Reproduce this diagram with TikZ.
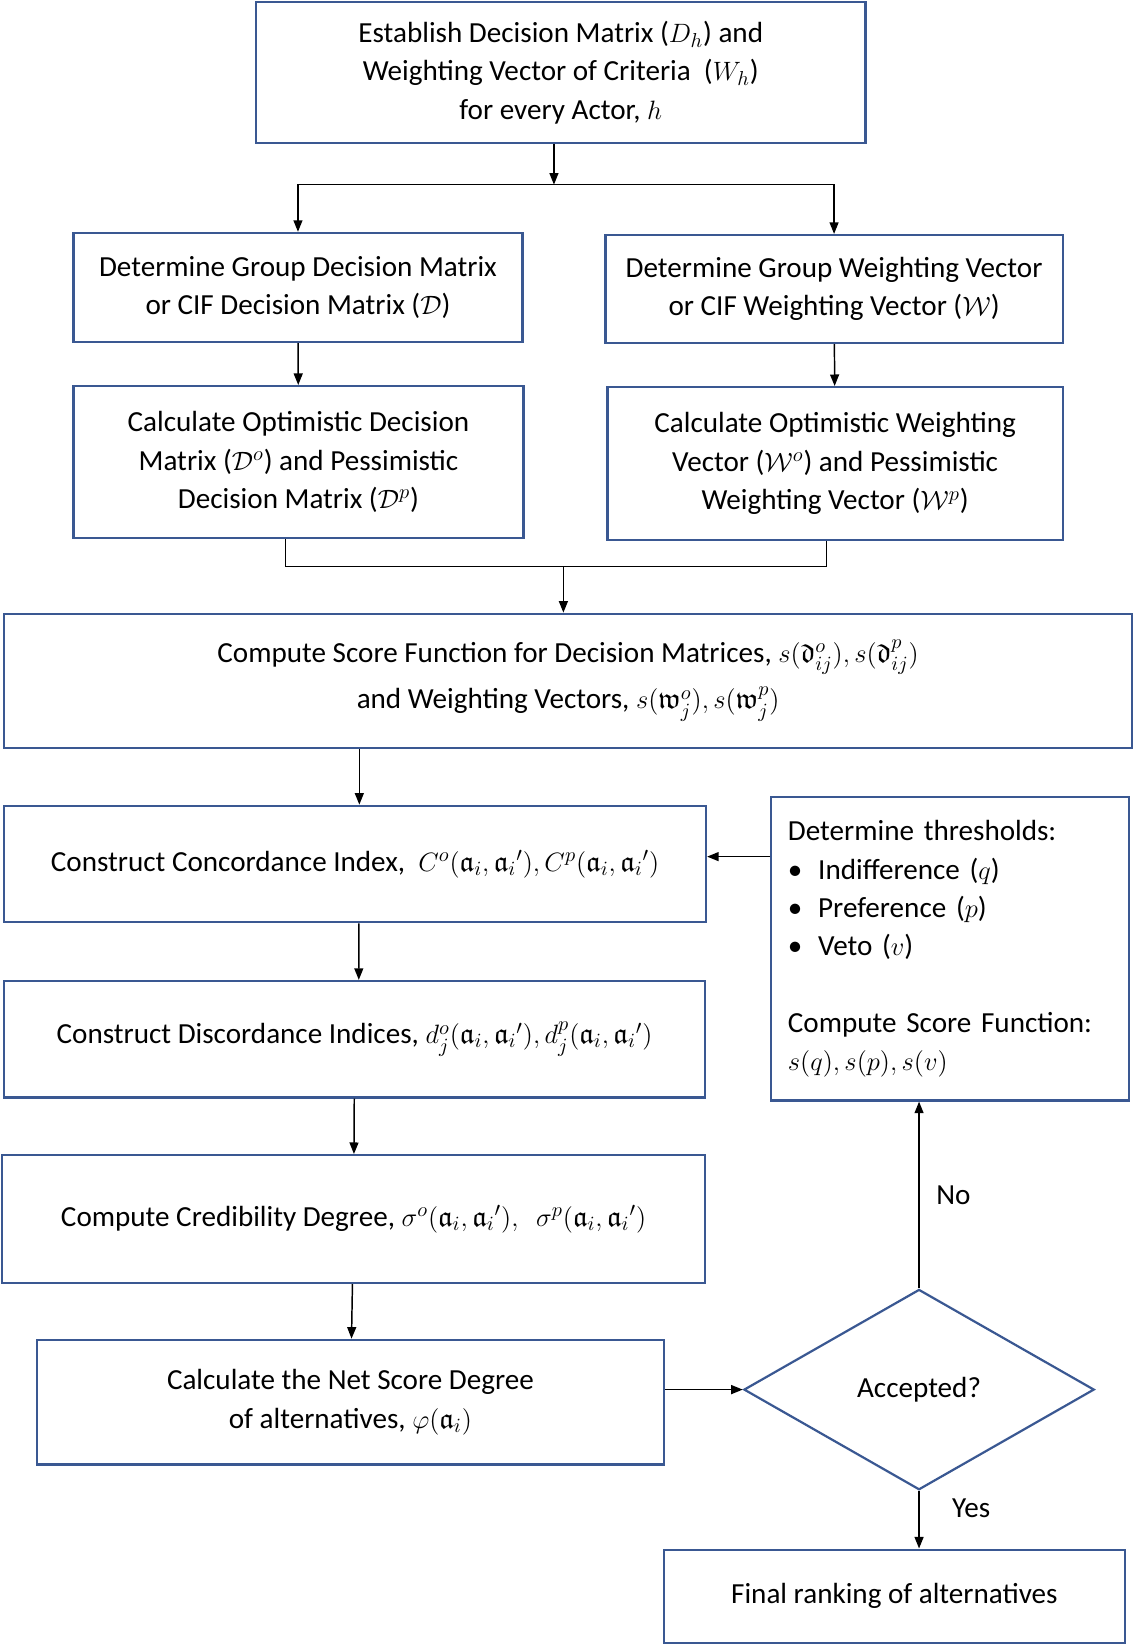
\documentclass[tikz,border=0pt]{standalone}
\usepackage{amssymb}
\usepackage{fontspec}
\setmainfont{Carlito}
\usetikzlibrary{arrows.meta,shapes.geometric,calc}
\definecolor{boxblue}{RGB}{58,88,146}
\tikzset{
  stepbox/.style={draw=boxblue, line width=1.2pt, align=center, inner sep=0pt,
    font=\fontsize{15.8}{20.8}\selectfont},
  flow/.style={-{Triangle[length=0.22cm,width=0.17cm]}, line width=0.8pt},
  joinline/.style={line width=0.8pt},
  flowlabel/.style={font=\fontsize{15.8}{20.8}\selectfont}
}
\begin{document}
\begin{tikzpicture}[x=0.02cm,y=-0.02cm]
    \useasboundingbox (0,0) rectangle (1080,1567);

    % Boxes
    \node[stepbox, minimum width=11.62cm, minimum height=2.68cm] (actor) at (534.5,69)
        {Establish Decision Matrix ($D_h$) and\\ Weighting Vector of Criteria\ \ ($W_h$)\\ for every Actor, $h$};
    \node[stepbox, minimum width=8.56cm, minimum height=2.08cm] (gdm) at (284,274)
        {Determine Group Decision Matrix\\ or CIF Decision Matrix ($\mathcal{D}$)};
    \node[stepbox, minimum width=8.72cm, minimum height=2.06cm] (gwv) at (795,275.5)
        {Determine Group Weighting Vector\\ or CIF Weighting Vector ($\mathcal{W}$)};
    \node[stepbox, minimum width=8.58cm, minimum height=2.9cm] (odm) at (284.5,440.5)
        {Calculate Optimistic Decision\\ Matrix ($\mathcal{D}^o$) and Pessimistic\\ Decision Matrix ($\mathcal{D}^p$)};
    \node[stepbox, minimum width=8.68cm, minimum height=2.92cm] (owv) at (796,442)
        {Calculate Optimistic Weighting\\ Vector ($\mathcal{W}^o$) and Pessimistic\\ Weighting Vector ($\mathcal{W}^p$)};
    \node[stepbox, minimum width=21.5cm, minimum height=2.56cm] (score) at (541.5,649)
        {Compute Score Function for Decision Matrices, $s\big(\mathfrak{d}_{ij}^o\big), s\big(\mathfrak{d}_{ij}^p\big)$\\[0.16cm]
         and Weighting Vectors, $s\big(\mathfrak{w}_j^o\big), s\big(\mathfrak{w}_j^p\big)$};
    \node[stepbox, minimum width=13.38cm, minimum height=2.22cm] (concord) at (338.5,823.5)
        {Construct Concordance Index,\ \ $C^o(\mathfrak{a}_i,{\mathfrak{a}_i}'), C^p(\mathfrak{a}_i,{\mathfrak{a}_i}')$};
    \node[stepbox, minimum width=6.82cm, minimum height=5.78cm, align=left, text width=6.18cm] (thresh) at (905.5,904.5)
        {Determine thresholds:\\
         \textbullet\hspace{0.3cm}Indifference ($q$)\\
         \textbullet\hspace{0.3cm}Preference ($p$)\\
         \textbullet\hspace{0.3cm}Veto ($v$)\\[20.8pt]
         Compute Score Function:\\
         $s(q), s(p), s(v)$};
    \node[stepbox, minimum width=13.36cm, minimum height=2.22cm] (discord) at (338,990.5)
        {Construct Discordance Indices, $d_j^o(\mathfrak{a}_i,{\mathfrak{a}_i}'), d_j^p(\mathfrak{a}_i,{\mathfrak{a}_i}')$};
    \node[stepbox, minimum width=13.4cm, minimum height=2.44cm] (cred) at (337,1162)
        {Compute Credibility Degree, $\sigma^o(\mathfrak{a}_i,{\mathfrak{a}_i}'),\ \ \sigma^p(\mathfrak{a}_i,{\mathfrak{a}_i}')$};
    \node[stepbox, minimum width=11.96cm, minimum height=2.38cm] (net) at (334,1336.5)
        {Calculate the Net Score Degree\\ of alternatives, $\varphi(\mathfrak{a}_i)$};
    \node[stepbox, diamond, aspect=1.75, minimum width=6.68cm, minimum height=3.82cm] (accepted) at (876,1324.5)
        {Accepted?};
    \node[stepbox, minimum width=8.78cm, minimum height=1.78cm] (final) at (852.5,1521.5)
        {Final ranking of alternatives};

    % Junctions
    \coordinate (split) at (528,176);
    \coordinate (merge) at (537,540);

    % Connectors
    \draw[flow] (split |- actor.south) -- (split);
    \draw[flow] (split) -| (gdm.north);
    \draw[flow] (split) -| (gwv.north);
    \draw[flow] (gdm) -- (odm);
    \draw[flow] (gwv) -- (owv);
    \draw[joinline] ($(odm.south)+(-12.5,0)$) |- (merge) -| ($(owv.south)+(-8,0)$);
    \draw[flow] (merge) -- (merge |- score.north);
    \draw[flow] ($(score.south -| concord)+(4,0)$) -- ($(concord.north)+(4,0)$);
    \draw[flow] ($(thresh.west |- concord)+(0,-7)$) -- ($(concord.east)+(0,-7)$);
    \draw[flow] ($(concord.south)+(3.5,0)$) -- ($(discord.north)+(4,0)$);
    \draw[flow] (discord) -- (cred);
    \draw[flow] (cred) -- (net);
    \draw[flow] (net.east |- accepted) -- (accepted.west);
    \draw[flow] (accepted.north) -- node[right, xshift=0.2cm, flowlabel] {No} (accepted.north |- thresh.south);
    \draw[flow] (accepted.south) -- node[pos=0.3, right, xshift=0.5cm, flowlabel] {Yes} (accepted.south |- final.north);

\end{tikzpicture}
\end{document}
